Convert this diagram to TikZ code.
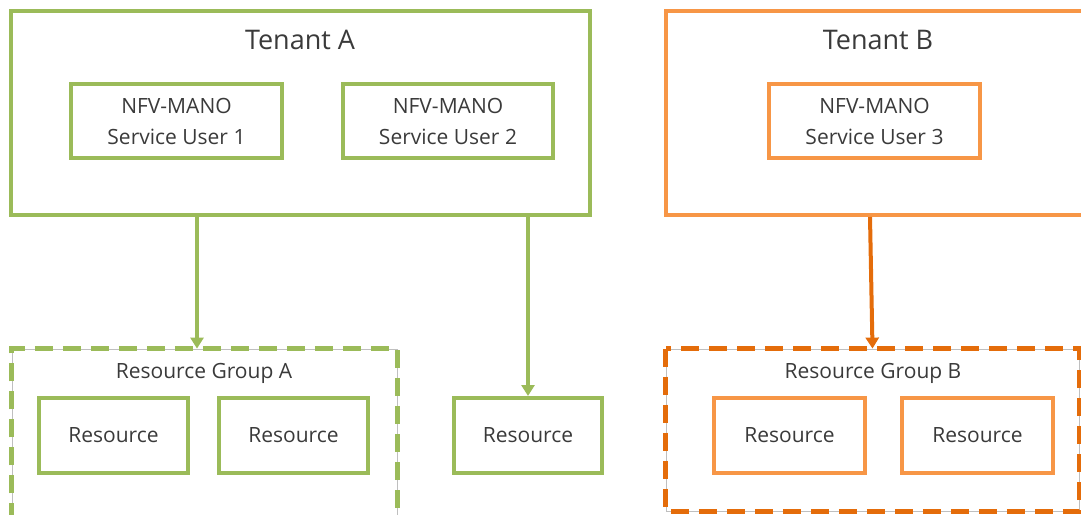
\documentclass[tikz,border=0pt]{standalone}
\usepackage{fontspec}
\setmainfont{Open Sans}
\usetikzlibrary{arrows.meta}
\definecolor{tgreen}{HTML}{9BBB59}
\definecolor{tlorange}{HTML}{F79646}
\definecolor{tdorange}{HTML}{E46C0A}
\definecolor{tgray}{HTML}{BFBFBF}
\definecolor{ttext}{HTML}{3A3A3A}
\tikzset{
  box/.style={draw, line width=4pt, rectangle, inner sep=0pt, text=ttext,
    font=\fontsize{21}{31}\selectfont, align=center},
  gbox/.style={box, draw=tgreen},
  obox/.style={box, draw=tlorange},
  tenant/.style={line width=4pt, rectangle, inner sep=0pt},
  grp/.style={draw=tgray, line width=0.8pt, rectangle, inner sep=0pt},
  grpdash/.style={line width=4.5pt, dash pattern=on 18pt off 10pt},
  title/.style={text=ttext, font=\fontsize{27}{30}\selectfont, inner sep=0pt},
  label/.style={text=ttext, font=\fontsize{21}{25}\selectfont, inner sep=0pt},
  arr/.style={line width=4pt, -{Triangle[width=13pt,length=11pt]}},
}
\begin{document}
\begin{tikzpicture}[x=1pt,y=-1pt]
  \useasboundingbox (0,0) rectangle (1081,514);
  \clip (0,0) rectangle (1081,514);

  % Tenant A with its two service users
  \node[tenant, draw=tgreen, minimum width=579, minimum height=204] (tA) at (300.5,113) {};
  \node[title] (tAl) at (300,40) {Tenant A};
  \node[gbox, minimum width=211, minimum height=74] (su1) at (176.5,121) {NFV-MANO\\Service User 1};
  \node[gbox, minimum width=210, minimum height=74] (su2) at (448,121) {NFV-MANO\\Service User 2};

  % Tenant B with its service user
  \node[tenant, draw=tlorange, minimum width=424, minimum height=204] (tB) at (878,113) {};
  \node[title] (tBl) at (878,40) {Tenant B};
  \node[obox, minimum width=211, minimum height=74] (su3) at (874.5,121) {NFV-MANO\\Service User 3};

  % Resource group A (runs past the lower edge)
  \node[grp, minimum width=385, minimum height=200] (rgA) at (204.5,449) {};
  \draw[grpdash, draw=tgreen] (rgA.south west) -- (rgA.north west) -- (rgA.north east) -- (rgA.south east);
  \node[label] (rgAl) at (204,373) {Resource Group A};
  \node[gbox, minimum width=149, minimum height=75] (r1) at (113.5,435.5) {Resource};
  \node[gbox, minimum width=149, minimum height=75] (r2) at (293.5,435.5) {Resource};

  % Stand-alone resource
  \node[gbox, minimum width=148, minimum height=75] (r3) at (528,435.5) {Resource};

  % Resource group B
  \node[grp, minimum width=413, minimum height=162] (rgB) at (872.5,430) {};
  \draw[grpdash, draw=tdorange] (rgB.north west) rectangle (rgB.south east);
  \node[label] (rgBl) at (873,373) {Resource Group B};
  \node[obox, minimum width=151, minimum height=75] (r4) at (789.5,435.5) {Resource};
  \node[obox, minimum width=151, minimum height=75] (r5) at (977.5,435.5) {Resource};

  % Connectors
  \draw[arr, draw=tgreen, fill=tgreen] ([xshift=-7.5pt]rgA.north |- tA.south) -- ([xshift=-7.5pt]rgA.north);
  \draw[arr, draw=tgreen, fill=tgreen] (r3.north |- tA.south) -- (r3.north);
  \draw[arr, draw=tdorange, fill=tdorange] ([xshift=-8pt]tB.south) -- (rgB.north);
\end{tikzpicture}
\end{document}
